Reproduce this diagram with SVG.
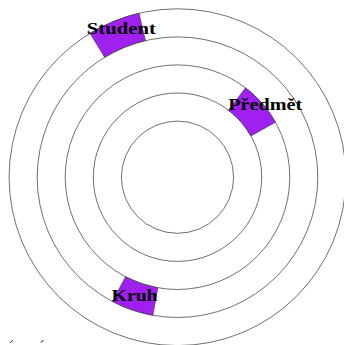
<svg xmlns="http://www.w3.org/2000/svg" width="344" height="345" viewBox="0 0 344 345">
<style>
.ring{fill:none;stroke:#4a4a4a;stroke-width:0.8}
.box{fill:#A020F0;stroke:#333;stroke-width:0.6}
.lbl{font-family:"Liberation Serif","DejaVu Serif",serif;font-weight:bold;font-size:17px;fill:#000;text-anchor:middle}
.mark{stroke:#222;stroke-width:1;stroke-linecap:round}
</style>
<rect width="344" height="345" fill="#fff"/>
<g id="rings">
<circle class="ring" cx="177.5" cy="177.2" r="56.1"/>
<circle class="ring" cx="177.5" cy="177.2" r="84.2"/>
<circle class="ring" cx="177.5" cy="177.2" r="112.3"/>
<circle class="ring" cx="177.5" cy="177.2" r="140.3"/>
<circle class="ring" cx="177.5" cy="177.2" r="168.4"/>
</g>
<g id="connectors"></g>
<g id="student">
<path class="box" d="M90.02 33.30 A168.4 168.4 0 0 1 139.04 13.25 L145.46 40.60 A140.3 140.3 0 0 0 104.61 57.31 Z"/>
<text class="lbl" x="121.3" y="33.5" textLength="69" lengthAdjust="spacingAndGlyphs">Student</text>
</g>
<g id="predmet">
<path class="box" d="M245.55 87.86 A112.3 112.3 0 0 1 275.44 122.24 L250.93 135.99 A84.2 84.2 0 0 0 228.53 110.22 Z"/>
<text class="lbl" x="265.2" y="110" textLength="74" lengthAdjust="spacingAndGlyphs">Předmět</text>
</g>
<g id="kruh">
<path class="box" d="M157.80 287.76 A112.3 112.3 0 0 1 125.47 276.72 L112.50 301.53 A140.3 140.3 0 0 0 152.89 315.32 Z"/>
<text class="lbl" x="134.6" y="301" textLength="46" lengthAdjust="spacingAndGlyphs">Kruh</text>
</g>
<g id="marks">
<line class="mark" x1="10.6" y1="342.6" x2="12.6" y2="340.2"/>
<line class="mark" x1="41.2" y1="342.6" x2="43.2" y2="340.2"/>
</g>
</svg>
